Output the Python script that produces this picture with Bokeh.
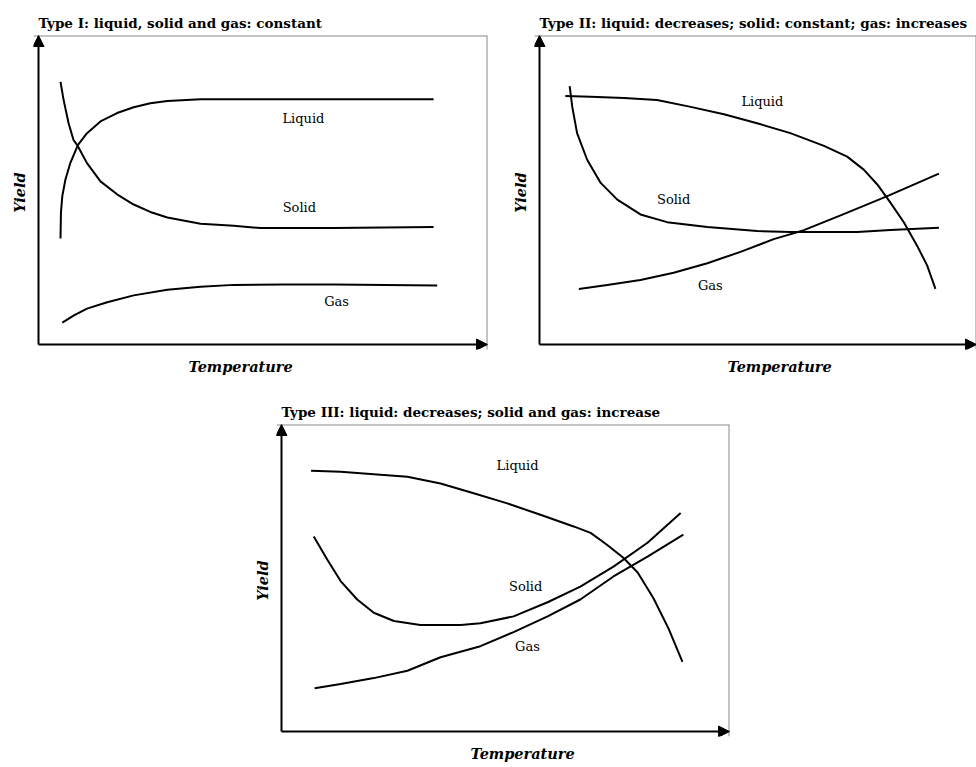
from bokeh.plotting import figure
from bokeh.layouts import column, row
from bokeh.models import LinearAxis, FixedTicker, Range1d, Arrow, NormalHead, Spacer, Span, Title
from bokeh.core.properties import value
from bokeh.embed import file_html
from bokeh.resources import INLINE

# ---------------- data (relative units, 0..10 on both axes) ----------------
# Type I
t1_title = "Type I: liquid, solid and gas: constant"
t1_liquid_x = [0.49, 0.50, 0.53, 0.60, 0.71, 0.88, 1.08, 1.38, 1.75, 2.12, 2.49, 2.87, 3.61, 4.35, 5.46, 8.80]
t1_liquid_y = [3.43, 4.27, 4.80, 5.34, 5.88, 6.46, 6.84, 7.22, 7.49, 7.68, 7.81, 7.88, 7.94, 7.94, 7.94, 7.94]
t1_solid_x = [0.49, 0.56, 0.67, 0.78, 0.88, 1.08, 1.38, 1.75, 2.12, 2.49, 2.87, 3.61, 4.35, 4.94, 6.58, 8.80]
t1_solid_y = [8.50, 7.91, 7.16, 6.62, 6.41, 5.87, 5.28, 4.86, 4.53, 4.29, 4.11, 3.91, 3.84, 3.77, 3.77, 3.80]
t1_gas_x = [0.53, 0.79, 1.08, 1.53, 2.12, 2.87, 3.61, 4.35, 5.46, 6.58, 8.88]
t1_gas_y = [0.71, 0.94, 1.16, 1.37, 1.59, 1.77, 1.87, 1.93, 1.94, 1.94, 1.91]
t1_label_x = [5.90, 5.81, 6.64]
t1_label_y = [7.30, 4.44, 1.38]

# Type II
t2_title = "Type II: liquid: decreases; solid: constant; gas: increases"
t2_liquid_x = [0.59, 1.17, 1.93, 2.69, 3.46, 4.22, 4.98, 5.74, 6.51, 7.04, 7.42, 7.73, 8.03, 8.34, 8.64, 8.87, 9.06]
t2_liquid_y = [8.04, 8.02, 7.98, 7.91, 7.69, 7.45, 7.16, 6.84, 6.43, 6.08, 5.66, 5.18, 4.59, 3.95, 3.20, 2.56, 1.80]
t2_solid_x = [0.69, 0.75, 0.86, 1.09, 1.40, 1.78, 2.31, 2.92, 3.84, 4.98, 5.74, 7.27, 8.03, 9.14]
t2_solid_y = [8.36, 7.69, 6.84, 5.98, 5.23, 4.69, 4.21, 3.96, 3.80, 3.67, 3.64, 3.64, 3.71, 3.78]
t2_gas_x = [0.90, 1.55, 2.31, 3.07, 3.84, 4.60, 5.36, 6.05, 6.89, 7.96, 9.14]
t2_gas_y = [1.80, 1.93, 2.09, 2.32, 2.63, 3.00, 3.41, 3.70, 4.18, 4.80, 5.53]
t2_label_x = [5.10, 3.07, 3.91]
t2_label_y = [7.88, 4.69, 1.90]

# Type III
t3_title = "Type III: liquid: decreases; solid and gas: increase"
t3_liquid_x = [0.66, 1.32, 2.06, 2.81, 3.55, 4.29, 5.04, 5.78, 6.52, 6.90, 7.25, 7.63, 7.95, 8.30, 8.64, 8.95]
t3_liquid_y = [8.49, 8.46, 8.38, 8.30, 8.08, 7.76, 7.43, 7.06, 6.68, 6.47, 6.10, 5.66, 5.18, 4.35, 3.35, 2.27]
t3_solid_x = [0.72, 1.02, 1.32, 1.69, 2.06, 2.51, 3.10, 4.00, 4.44, 5.18, 5.94, 6.67, 7.41, 8.17, 8.91]
t3_solid_y = [6.35, 5.60, 4.90, 4.30, 3.87, 3.60, 3.47, 3.47, 3.53, 3.75, 4.21, 4.72, 5.37, 6.15, 7.12]
t3_gas_x = [0.74, 1.32, 2.06, 2.81, 3.55, 4.44, 5.18, 5.94, 6.67, 7.41, 8.17, 8.97]
t3_gas_y = [1.41, 1.55, 1.74, 1.98, 2.42, 2.78, 3.24, 3.75, 4.30, 5.05, 5.70, 6.41]
t3_label_x = [5.27, 5.45, 5.49]
t3_label_y = [8.67, 4.72, 2.78]

curve_names = ["Liquid", "Solid", "Gas"]
x_label = "Temperature"
y_label = "Yield"

SERIF = "DejaVu Serif"
PAD = 5  # px of room kept left of / below the axis arrows so the heads are not clipped


def panel(title, curves, lab_x, lab_y, width, height, bl, br, bt, bb, xlab_offset):
    fw = width - bl - br
    fh = height - bt - bb
    px_ = 10.0 * PAD / fw
    py_ = 10.0 * PAD / fh
    p = figure(width=width, height=height, x_range=Range1d(-px_, 10), y_range=Range1d(-py_, 10),
               x_axis_type=None, y_axis_type=None, output_backend="svg",
               toolbar_location=None, min_border_left=bl - PAD, min_border_right=br,
               min_border_top=bt, min_border_bottom=bb - PAD, title=title)
    p.title.align = "left"
    p.title.offset = PAD
    p.title.text_font = SERIF
    p.title.text_font_style = "bold"
    p.title.text_font_size = "13.5px"
    p.title.text_color = "black"
    p.title.standoff = 9
    p.outline_line_color = None
    p.background_fill_color = "white"
    p.border_fill_color = "white"

    for side in ("below", "left"):
        ax = LinearAxis(ticker=FixedTicker(ticks=[]))
        ax.axis_line_color = None
        ax.major_tick_line_color = None
        ax.minor_tick_line_color = None
        ax.major_label_text_font_size = "0px"
        ax.axis_label_text_font = SERIF
        ax.axis_label_text_font_style = "bold italic"
        ax.axis_label_text_font_size = "14.5px"
        ax.axis_label_text_color = "black"
        if side == "left":
            ax.axis_label = y_label
            ax.axis_label_standoff = 11 - PAD
        p.add_layout(ax, side)

    xt = Title(text=x_label, align="left", offset=xlab_offset, text_font=SERIF,
               text_font_style="bold italic", text_font_size="14.5px", text_color="black",
               standoff=12)
    p.add_layout(xt, "below")

    # gray box: top and right edges
    p.add_layout(Span(location=10, dimension="width", line_color="#8a8a8a", line_width=2))
    p.add_layout(Span(location=10, dimension="height", line_color="#8a8a8a", line_width=2))

    # axes drawn as arrows
    for (x0, y0, x1, y1) in ((0, 0, 10, 0), (0, 0, 0, 10)):
        arr = Arrow(end=NormalHead(size=11, fill_color="black", line_color="black", line_width=1),
                    x_start=x0, y_start=y0, x_end=x1, y_end=y1,
                    line_width=2, line_color="black", level="overlay")
        p.add_layout(arr)

    for cx, cy in curves:
        p.line(cx, cy, line_color="black", line_width=2)
    p.text(x=lab_x, y=lab_y, text=curve_names, text_align="center", text_baseline="middle",
           text_font=value(SERIF), text_font_size="13px", text_color="black")
    return p


p1 = panel(t1_title, [(t1_liquid_x, t1_liquid_y), (t1_solid_x, t1_solid_y), (t1_gas_x, t1_gas_y)],
           t1_label_x, t1_label_y, 490, 380, 38, 3, 35, 35, 155)
p2 = panel(t2_title, [(t2_liquid_x, t2_liquid_y), (t2_solid_x, t2_solid_y), (t2_gas_x, t2_gas_y)],
           t2_label_x, t2_label_y, 486, 380, 49, 0, 35, 34, 193)
p3 = panel(t3_title, [(t3_liquid_x, t3_liquid_y), (t3_solid_x, t3_solid_y), (t3_gas_x, t3_gas_y)],
           t3_label_x, t3_label_y, 494, 387, 41, 5, 44, 34, 194)

layout = column(row(p1, p2, spacing=0), row(Spacer(width=240, height=387), p3, spacing=0), spacing=0)

open("out.html", "w").write(file_html(layout, INLINE))
